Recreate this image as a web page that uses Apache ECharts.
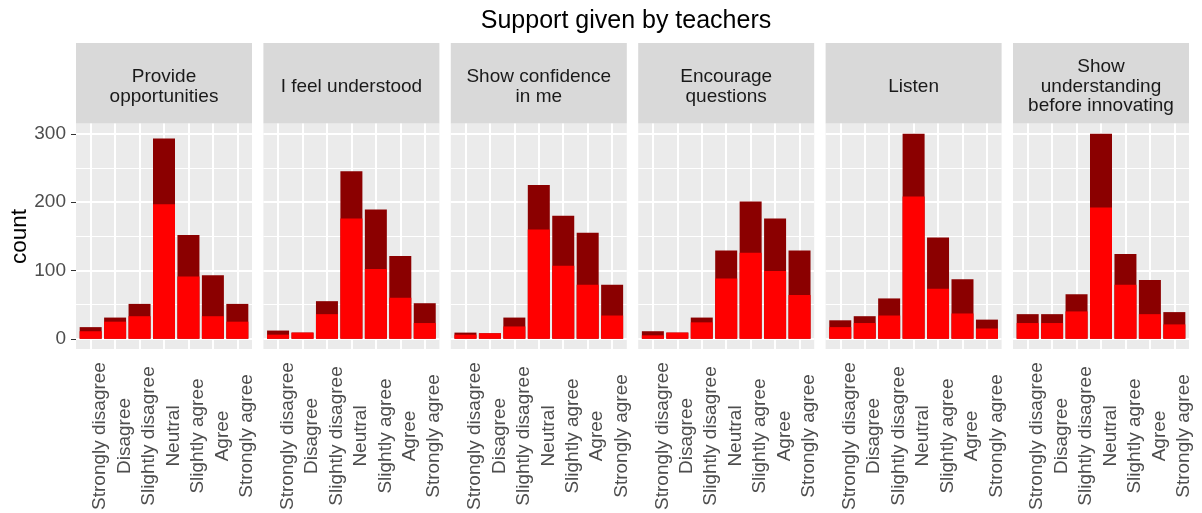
<!DOCTYPE html>
<html><head><meta charset="utf-8">
<script src="https://cdn.jsdelivr.net/npm/echarts@6/dist/echarts.min.js"></script>
<style>html,body{margin:0;padding:0;background:#fff}#c{width:1202px;height:513px}</style>
</head><body><div id="c"></div>
<script>
const chartTitle = 'Support given by teachers';
const yAxisTitle = 'count';
const categories = ['Strongly disagree','Disagree','Slightly disagree','Neutral','Slightly agree','Agree','Strongly agree'];
const facetLabels = ['Provide\nopportunities','I feel understood','Show confidence\nin me','Encourage\nquestions','Listen','Show\nunderstanding\nbefore innovating'];
const yTicks = [0, 100, 200, 300];
const yMinorGrid = [50, 150, 250];

// bar total height (dark red top) and red lower part, per facet
const totalProvide    = [17, 31, 51, 293, 152, 93, 51];
const redProvide      = [11, 25, 33, 197, 91, 33, 25];
const totalUnderstood = [12, 9, 55, 245, 189, 121, 52];
const redUnderstood   = [6, 9, 36, 176, 102, 60, 23];
const totalConfidence = [9, 8, 31, 225, 180, 155, 79];
const redConfidence   = [6, 8, 18, 160, 107, 79, 34];
const totalEncourage  = [11, 9, 31, 129, 201, 176, 129];
const redEncourage    = [5, 9, 24, 88, 126, 99, 64];
const totalListen     = [27, 33, 59, 300, 148, 87, 28];
const redListen       = [17, 23, 34, 208, 73, 37, 15];
const totalShow       = [36, 36, 65, 300, 124, 86, 39];
const redShow         = [23, 23, 40, 192, 79, 36, 21];

const totalSets = [totalProvide, totalUnderstood, totalConfidence, totalEncourage, totalListen, totalShow];
const redSets   = [redProvide, redUnderstood, redConfidence, redEncourage, redListen, redShow];

const FONT = "'Liberation Sans', Arial, Helvetica, sans-serif";
const panelLeft0 = 76, panelStep = 187.4, panelW = 176;
const panelTop = 123.5, panelH = 225.5;
const stripTop = 43, stripH = 80.5;
const catPos = categories.map((c, j) => j + 1);

const grids = [], xAxes = [], yAxes = [], series = [], graphics = [];

facetLabels.forEach((lab, i) => {
  const left = panelLeft0 + i * panelStep;
  grids.push({left: left, top: panelTop, width: panelW, height: panelH, show: true,
    backgroundColor: '#EBEBEB', borderWidth: 0, containLabel: false});
  xAxes.push({type: 'value', gridIndex: i, min: 0.4, max: 7.6,
    axisLine: {show: false},
    axisTick: {show: true, customValues: catPos, length: 4.5, lineStyle: {color: '#333333', width: 1}},
    axisLabel: {show: true, customValues: catPos, rotate: 90, align: 'center', verticalAlign: 'top',
      margin: 87, color: '#4D4D4D', fontSize: 19, fontFamily: FONT,
      formatter: v => categories[Math.round(v) - 1]},
    splitLine: {show: false}});
  yAxes.push({type: 'value', gridIndex: i, min: -15, max: 315,
    axisLine: {show: false},
    axisTick: {show: i === 0, customValues: yTicks, length: 5, lineStyle: {color: '#333333', width: 1}},
    axisLabel: {show: i === 0, customValues: yTicks, margin: 10, color: '#4D4D4D', fontSize: 19, fontFamily: FONT},
    splitLine: {show: false}});
  const gridData = [
    ...yMinorGrid.map(v => ({yAxis: v, lineStyle: {width: 1}})),
    ...yTicks.map(v => ({yAxis: v, lineStyle: {width: 2}})),
    ...catPos.map(v => ({xAxis: v, lineStyle: {width: 2}}))
  ];
  series.push({type: 'line', xAxisIndex: i, yAxisIndex: i, data: [], silent: true, z: 1,
    markLine: {silent: true, z: 1, symbol: ['none', 'none'], label: {show: false},
      lineStyle: {color: '#FFFFFF', type: 'solid', width: 2}, emphasis: {disabled: true},
      animation: false, data: gridData}});
  series.push({type: 'bar', xAxisIndex: i, yAxisIndex: i, barWidth: 22, barGap: '-100%', z: 2,
    itemStyle: {color: '#8B0000'}, emphasis: {disabled: true},
    data: totalSets[i].map((v, j) => [catPos[j], v])});
  series.push({type: 'bar', xAxisIndex: i, yAxisIndex: i, barWidth: 22, barGap: '-100%', z: 2,
    itemStyle: {color: '#FF0000'}, emphasis: {disabled: true},
    data: redSets[i].map((v, j) => [catPos[j], v])});
  graphics.push({type: 'rect', shape: {x: left, y: stripTop, width: panelW, height: stripH},
    style: {fill: '#D9D9D9'}, silent: true});
  graphics.push({type: 'text', x: left + panelW / 2, y: 86.5, silent: true,
    style: {text: lab, x: 0, y: 0, align: 'center', verticalAlign: 'middle',
      textAlign: 'center', textVerticalAlign: 'middle',
      font: '19px ' + FONT, lineHeight: 19.7, fill: '#1A1A1A'}});
});

graphics.push({type: 'text', x: 626, y: 21.5, silent: true,
  style: {text: chartTitle, x: 0, y: 0, align: 'center', verticalAlign: 'middle',
    textAlign: 'center', textVerticalAlign: 'middle', font: '25px ' + FONT, fill: '#000000'}});
graphics.push({type: 'text', x: 20, y: 236.5, rotation: Math.PI / 2, silent: true,
  style: {text: yAxisTitle, x: 0, y: 0, align: 'center', verticalAlign: 'middle',
    textAlign: 'center', textVerticalAlign: 'middle', font: '22.5px ' + FONT, fill: '#000000'}});

const chart = echarts.init(document.getElementById('c'), null, {renderer: 'canvas'});
chart.setOption({
  animation: false,
  backgroundColor: '#FFFFFF',
  textStyle: {fontFamily: FONT},
  grid: grids, xAxis: xAxes, yAxis: yAxes, series: series,
  graphic: {elements: graphics}
});
</script></body></html>
